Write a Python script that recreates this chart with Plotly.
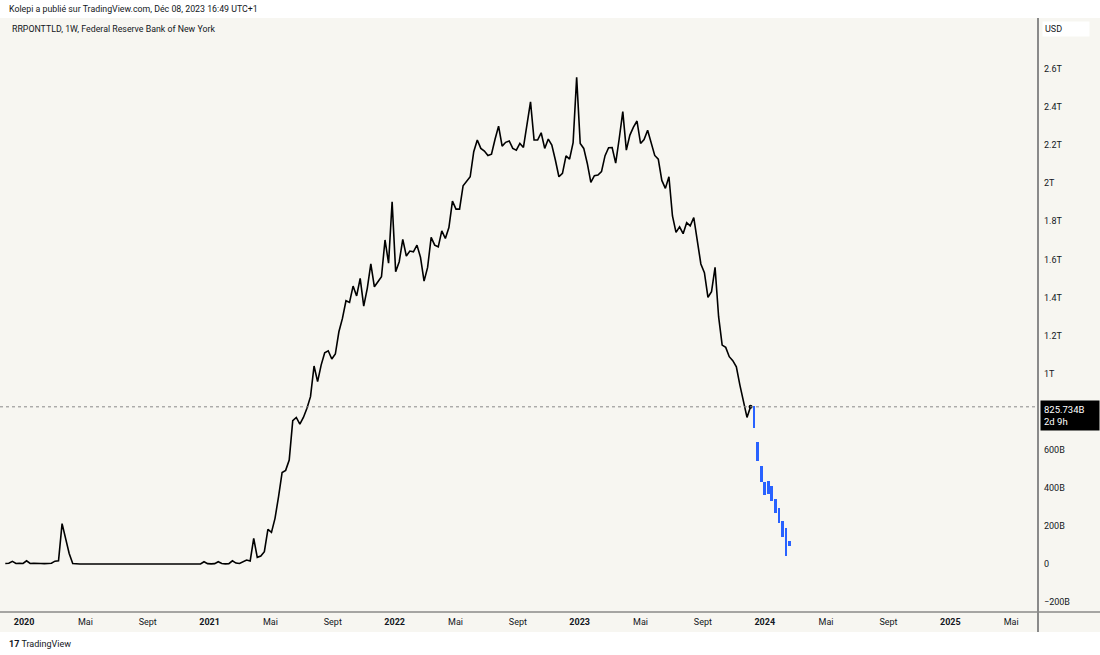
import pandas as pd
import plotly.graph_objects as go

# RRPONTTLD, weekly, billions USD, first week 2019-11-25
rrp_values = [
    3, 4, 14, 3, 4, 3, 17, 3, 4, 2,
    3, 2, 3, 4, 15, 17, 212, 140, 55, 3,
    0.3, 0.3, 0.3, 0.3, 0.3, 0.3, 0.3, 0.3, 0.3, 0.3,
    0.3, 0.3, 0.3, 0.3, 0.3, 0.3, 0.3, 0.3, 0.3, 0.3,
    0.3, 0.3, 0.3, 0.3, 0.3, 0.3, 0.3, 0.3, 0.3, 0.3,
    0.3, 0.3, 0.3, 0.3, 0.3, 0.3, 12, 2, 1, 2,
    12, 3, 1, 2, 17, 5, 3, 10, 21, 16,
    135, 35, 42, 65, 182, 166, 240, 354, 481, 492,
    546, 753, 770, 735, 770, 818, 879, 1040, 958, 1045,
    1110, 1120, 1077, 1103, 1220, 1290, 1383, 1374, 1460, 1408,
    1500, 1355, 1448, 1576, 1456, 1483, 1509, 1702, 1580, 1903,
    1535, 1588, 1705, 1618, 1644, 1640, 1675, 1611, 1486, 1558,
    1716, 1675, 1666, 1750, 1710, 1767, 1906, 1864, 1864, 1987,
    2011, 2034, 2166, 2227, 2183, 2169, 2146, 2153, 2231, 2300,
    2195, 2215, 2222, 2183, 2174, 2209, 2188, 2306, 2428, 2227,
    2227, 2265, 2183, 2232, 2201, 2122, 2034, 2052, 2144, 2127,
    2213, 2556, 2209, 2183, 2104, 2005, 2040, 2043, 2061, 2145,
    2187, 2188, 2106, 2235, 2376, 2174, 2253, 2295, 2327, 2209,
    2230, 2278, 2205, 2146, 2127, 2015, 1973, 2034, 1828, 1742,
    1771, 1735, 1793, 1776, 1820, 1695, 1576, 1530, 1401, 1430,
    1558, 1299, 1150, 1138, 1089, 1068, 1036, 940, 861, 770, 825.734,
]
rrp_dates = pd.date_range("2019-11-25", periods=len(rrp_values), freq="7D")

# projection bars drawn on the chart (blue), weekly from 2023-12-11
proj_high = [831, 642, 516, 429, 436, 411, 341, 296, 226, 187, 122]
proj_low = [713, 541, 429, 362, 369, 331, 268, 214, 143, 44, 96]
proj_dates = pd.date_range("2023-12-11", periods=len(proj_high), freq="7D")

last_price = 825.734

y_ticks = [-200, 0, 200, 400, 600, 1000, 1200, 1400, 1600, 1800, 2000, 2200, 2400, 2600]
y_labels = ["\u2212200B", "0", "200B", "400B", "600B", "1T", "1.2T", "1.4T", "1.6T",
            "1.8T", "2T", "2.2T", "2.4T", "2.6T"]

x_ticks = ["2020-01-01", "2020-05-01", "2020-09-01", "2021-01-01", "2021-05-01", "2021-09-01",
           "2022-01-01", "2022-05-01", "2022-09-01", "2023-01-01", "2023-05-01", "2023-09-01",
           "2024-01-01", "2024-05-01", "2024-09-01", "2025-01-01", "2025-05-01"]
x_labels = ["<b>2020</b>", "Mai", "Sept", "<b>2021</b>", "Mai", "Sept", "<b>2022</b>", "Mai", "Sept",
            "<b>2023</b>", "Mai", "Sept", "<b>2024</b>", "Mai", "Sept", "<b>2025</b>", "Mai"]

bg = "#f7f6f1"
txt = "#131722"

fig = go.Figure()

fig.add_trace(go.Scatter(
    x=rrp_dates, y=rrp_values, mode="lines",
    line=dict(color="#000000", width=1.6),
    hoverinfo="skip", showlegend=False,
))
fig.add_trace(go.Scatter(
    x=[rrp_dates[-1]], y=[rrp_values[-1]], mode="markers",
    marker=dict(color="#000000", size=4),
    hoverinfo="skip", showlegend=False,
))
fig.add_trace(go.Bar(
    x=proj_dates,
    y=[h - l for h, l in zip(proj_high, proj_low)],
    base=proj_low,
    width=5.5 * 86400000,
    marker=dict(color="#2962ff", line=dict(width=0)),
    hoverinfo="skip", showlegend=False,
))

# dotted last price line
fig.add_hline(y=last_price, line=dict(color="#8a8a8a", width=1, dash="dot"))

ext = 1100 / 1038
band = 20 / 594
fig.add_shape(type="rect", xref="paper", yref="paper", x0=0, x1=ext, y0=-band, y1=1,
              fillcolor=bg, line=dict(width=0), layer="below")
fig.add_shape(type="line", xref="paper", yref="paper", x0=0, x1=ext, y0=0, y1=0,
              line=dict(color="#555555", width=1))
fig.add_shape(type="line", xref="paper", yref="paper", x0=1, x1=1, y0=-band, y1=1,
              line=dict(color="#8a8a8a", width=2))

fig.add_annotation(xref="paper", yref="paper", x=7 / 1038, y=(612 - 9) / 594,
                   xanchor="left", yanchor="middle", showarrow=False,
                   text="Kolepi a publié sur TradingView.com, Déc 08, 2023 16:49 UTC+1",
                   font=dict(size=8.8, color=txt))
fig.add_annotation(xref="paper", yref="paper", x=10 / 1038, y=(612 - 29) / 594,
                   xanchor="left", yanchor="middle", showarrow=False,
                   text="RRPONTTLD, 1W, Federal Reserve Bank of New York",
                   font=dict(size=8.8, color=txt))
fig.add_annotation(xref="paper", yref="paper", x=1, xshift=4, y=(612 - 29) / 594,
                   xanchor="left", yanchor="middle", showarrow=False,
                   text="USD", width=42, align="left", bgcolor="#ffffff", borderpad=2,
                   font=dict(size=9, color=txt))
fig.add_annotation(xref="paper", yref="y", x=1, xshift=2, y=last_price, yshift=7,
                   xanchor="left", yanchor="top", showarrow=False,
                   text="825.734B<br>2d 9h", align="left", width=52,
                   bgcolor="#000000", borderpad=3,
                   font=dict(size=9.5, color="#ffffff"))
fig.add_annotation(xref="paper", yref="paper", x=7 / 1038, y=(612 - 644) / 594,
                   xanchor="left", yanchor="middle", showarrow=False,
                   text="<b>17</b> TradingView",
                   font=dict(size=9, color=txt))

fig.update_layout(
    width=1100, height=655,
    margin=dict(l=0, r=62, t=18, b=43),
    paper_bgcolor="#ffffff", plot_bgcolor=bg,
    font=dict(family="Roboto, Inter, sans-serif", size=9, color=txt),
    bargap=0,
    xaxis=dict(
        type="date", range=["2019-11-14 13:00", "2025-06-23"],
        tickvals=x_ticks, ticktext=x_labels, ticks="",
        showgrid=False, zeroline=False, showline=False, automargin=False,
        tickfont=dict(size=9, color=txt), ticklabelstandoff=3,
    ),
    yaxis=dict(
        side="right", range=[-252, 2868],
        tickvals=y_ticks, ticktext=y_labels, ticks="",
        showgrid=False, zeroline=False, showline=False, automargin=False,
        tickfont=dict(size=9, color=txt), ticklabelstandoff=5,
    ),
)

fig.write_html("out.html", config={"displayModeBar": False},
               post_script="document.body.style.margin='0px';")
